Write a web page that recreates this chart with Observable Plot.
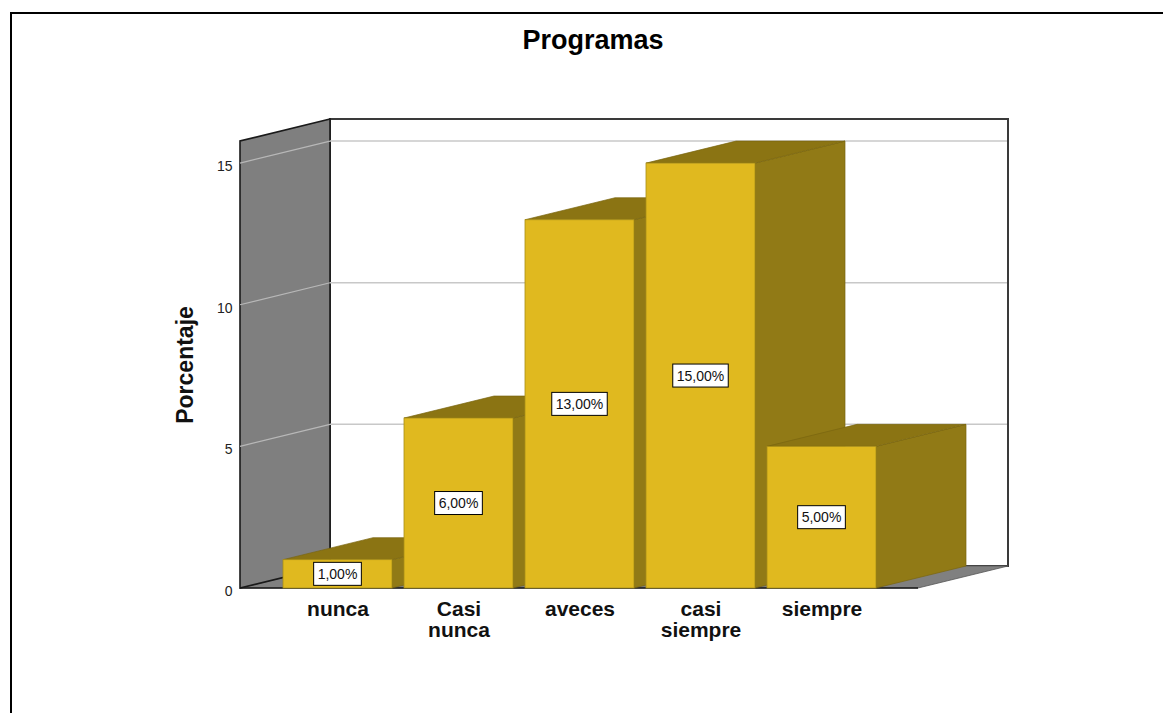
<!DOCTYPE html>
<html><head><meta charset="utf-8">
<script src="https://cdn.jsdelivr.net/npm/d3@7"></script>
<script src="https://cdn.jsdelivr.net/npm/@observablehq/plot@0.6"></script>
<style>
html,body{margin:0;padding:0;background:#fff;overflow:hidden}
#wrap{position:relative;width:1163px;height:713px;font-family:Arial,"Liberation Sans",sans-serif}
#chart{position:absolute;left:0;top:0}
#frame{position:absolute;left:10px;top:12px;width:1170px;height:720px;border-left:2.5px solid #000;border-top:2.5px solid #000;box-sizing:border-box;pointer-events:none}
#title{position:absolute;left:23px;width:1140px;top:24px;text-align:center;font-weight:bold;font-size:27px;line-height:32px;color:#000}
</style></head><body>
<div id="wrap"><div id="chart"></div><div id="frame"></div><div id="title"></div></div>
<script>
// ---- data ----
const title = "Programas";
const yLabel = "Porcentaje";
const categories = ["nunca", "Casi nunca", "aveces", "casi siempre", "siempre"];
const axisLabels = ["nunca", "Casi\nnunca", "aveces", "casi\nsiempre", "siempre"];
const percentages = [1, 6, 13, 15, 5];
const valueLabels = ["1,00%", "6,00%", "13,00%", "15,00%", "5,00%"];
const yTicks = [0, 5, 10, 15];
const yMax = 15.78;

const data = categories.map((c, i) => ({cat: c, label: axisLabels[i], value: percentages[i], text: valueLabels[i]}));

// ---- style (3D depth in pixels) ----
const DX = 90, DY = 22;
const FRONT = "#e0b91f", TOP = "#8b7413", SIDE = "#917a16";

document.getElementById("title").textContent = title;

const ctx = document.createElement("canvas").getContext("2d");
ctx.font = "14px Arial, 'Liberation Sans', sans-serif";

function bandwidthOf(x) {
  if (typeof x.bandwidth === "function") return x.bandwidth();
  return 0;
}

function walls(index, scales, values, dims) {
  const y = scales.y;
  const x0 = dims.marginLeft, x1 = dims.width - dims.marginRight;
  const yb = y(0), yt = y(yMax);
  const g = d3.create("svg:g");
  g.append("rect").attr("x", x0 + DX).attr("y", yt - DY).attr("width", x1 - x0).attr("height", yb - yt)
    .attr("fill", "#fff").attr("stroke", "#3a3a3a").attr("stroke-width", 2);
  g.append("path").attr("d", `M${x0},${yb}L${x1},${yb}L${x1 + DX},${yb - DY}L${x0 + DX},${yb - DY}Z`)
    .attr("fill", "#808080").attr("stroke", "#555").attr("stroke-width", 0.8);
  g.append("path").attr("d", `M${x0},${yb}L${x0},${yt}L${x0 + DX},${yt - DY}L${x0 + DX},${yb - DY}Z`)
    .attr("fill", "#7f7f7f").attr("stroke", "#1a1a1a").attr("stroke-width", 1.6);
  for (const t of yTicks) {
    if (t === 0) continue;
    const yy = y(t);
    g.append("line").attr("x1", x0).attr("y1", yy).attr("x2", x0 + DX).attr("y2", yy - DY)
      .attr("stroke", "#b8b8b8").attr("stroke-width", 1.2);
    g.append("line").attr("x1", x0 + DX).attr("y1", yy - DY).attr("x2", x1 + DX - 1).attr("y2", yy - DY)
      .attr("stroke", "#c8c8c8").attr("stroke-width", 1.5);
  }
  g.append("line").attr("x1", x0).attr("y1", yb).attr("x2", x1).attr("y2", yb)
    .attr("stroke", "#1a1a1a").attr("stroke-width", 1.6);
  return g.node();
}

function bars(index, scales, values, dims) {
  const {x, y} = scales;
  const bw = bandwidthOf(x);
  const g = d3.create("svg:g");
  for (const d of data) {
    const xl = x(d.cat), xr = xl + bw, yt = y(d.value), yb = y(0);
    g.append("path").attr("d", `M${xr},${yt}L${xr + DX},${yt - DY}L${xr + DX},${yb - DY}L${xr},${yb}Z`)
      .attr("fill", SIDE).attr("stroke", "#7a6610").attr("stroke-width", 0.7);
    g.append("path").attr("d", `M${xl},${yt}L${xl + DX},${yt - DY}L${xr + DX},${yt - DY}L${xr},${yt}Z`)
      .attr("fill", TOP).attr("stroke", "#7a6610").attr("stroke-width", 0.7);
    g.append("rect").attr("x", xl).attr("y", yt).attr("width", bw).attr("height", yb - yt)
      .attr("fill", FRONT).attr("stroke", "#a88e18").attr("stroke-width", 0.8);
  }
  return g.node();
}

function valueBoxes(index, scales, values, dims) {
  const {x, y} = scales;
  const bw = bandwidthOf(x);
  const g = d3.create("svg:g");
  for (const d of data) {
    const cx = x(d.cat) + bw / 2, cy = (y(d.value) + y(0)) / 2;
    const w = ctx.measureText(d.text).width + 8, h = 23;
    g.append("rect").attr("x", cx - w / 2).attr("y", cy - h / 2).attr("width", w).attr("height", h)
      .attr("fill", "#fff").attr("stroke", "#000").attr("stroke-width", 1);
    g.append("text").attr("x", cx).attr("y", cy).attr("dy", "0.36em").attr("text-anchor", "middle")
      .attr("font-size", 14).attr("fill", "#111").text(d.text);
  }
  return g.node();
}

const chart = Plot.plot({
  width: 1163,
  height: 713,
  marginLeft: 240,
  marginRight: 245,
  marginTop: 141,
  marginBottom: 125,
  style: {fontFamily: "Arial, 'Liberation Sans', sans-serif", fontSize: "14px", background: "transparent", color: "#222", overflow: "visible"},
  x: {type: "band", domain: categories, paddingInner: 0.1, paddingOuter: 0.33, axis: null},
  y: {domain: [0, yMax], axis: null},
  marks: [
    walls,
    bars,
    valueBoxes,
    Plot.text(yTicks, {y: d => d, text: d => String(d), frameAnchor: "left", textAnchor: "end", dx: -8, dy: 3,
      fontSize: 14, fill: "#222"}),
    Plot.text(data, {x: "cat", text: "label", frameAnchor: "bottom", dy: 13, lineAnchor: "top", lineHeight: 1.0,
      fontSize: 21, fontWeight: "bold", fill: "#111"}),
    Plot.text([yLabel], {frameAnchor: "left", textAnchor: "middle", dx: -55, rotate: -90, fontSize: 23, fontWeight: "bold", fill: "#111"})
  ]
});
document.getElementById("chart").appendChild(chart);
</script>
</body></html>
